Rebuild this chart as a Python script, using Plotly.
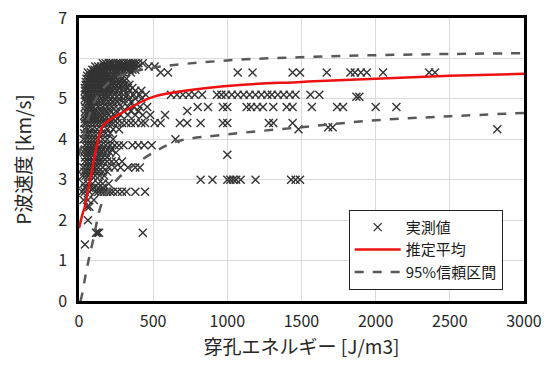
import plotly.graph_objects as go

# ---- measured points, grouped by P-wave velocity level (km/s) -> energies (J/m3)
row_levels = [5.88, 5.8, 5.72, 5.65, 5.57, 5.5, 5.42, 5.35, 5.27, 5.2, 5.1, 5.05, 5.0, 4.92,
              4.8, 4.7, 4.6, 4.5, 4.4, 4.3, 4.25, 4.15, 4.0, 3.85, 3.75, 3.67, 3.62, 3.55,
              3.45, 3.3, 3.2, 3.1, 3.0, 2.9, 2.8, 2.7, 2.5, 2.33, 2.0, 1.69, 1.4]
row_energy = [
    [160, 180, 200, 215, 230, 250, 265, 280, 300, 320, 335, 350, 365, 380, 400, 430],
    [110, 130, 150, 170, 190, 210, 230, 250, 270, 290, 310, 330, 350, 370, 400, 470, 510],
    [90, 105, 120, 140, 160, 180, 200, 220, 240, 260, 280, 300, 320, 340, 360, 380],
    [60, 80, 100, 120, 140, 160, 180, 250, 300, 350, 550, 600, 1070, 1170, 1440, 1490, 1670,
     1830, 1860, 1900, 1940, 2050, 2360, 2400],
    [55, 75, 95, 115, 135, 155, 175, 195, 215, 235, 255, 280],
    [50, 70, 90, 110, 130, 150, 170, 190, 210, 230, 260, 290, 320],
    [45, 65, 85, 105, 125, 145, 165, 185, 205, 225, 250, 275, 300],
    [45, 60, 80, 100, 120, 140, 160, 180, 200, 220, 250, 280, 310, 340],
    [40, 55, 75, 95, 115, 135, 155, 175, 195, 215, 240, 270, 300, 330, 360],
    [40, 60, 80, 100, 120, 140, 160, 180, 200, 230, 260, 300, 340, 380, 420],
    [40, 55, 70, 90, 110, 130, 150, 170, 190, 210, 240, 270, 300, 330, 370, 410, 450, 620, 660,
     700, 740, 780, 830, 930, 960, 990, 1030, 1070, 1110, 1150, 1190, 1230, 1270, 1300, 1340,
     1380, 1420, 1460, 1560, 1620],
    [1870, 1890],
    [40, 60, 80, 100, 120, 150, 180, 210, 240, 270, 300, 340, 380, 420],
    [45, 65, 85, 105, 125, 145, 170, 200, 230, 260, 300, 350],
    [40, 60, 80, 100, 130, 160, 190, 220, 250, 290, 330, 370, 410, 460, 800, 870, 970, 1000,
     1130, 1160, 1200, 1240, 1310, 1400, 1440, 1570, 1740, 1780, 2000, 2140],
    [45, 70, 95, 120, 150, 180, 210, 250, 300, 350, 400, 730],
    [40, 60, 85, 110, 140, 170, 200, 240, 280, 330, 380, 430, 480, 580],
    [40, 60, 80, 100, 125, 150, 175, 200, 230, 260],
    [35, 50, 70, 90, 110, 130, 150, 170, 190, 210, 230, 260, 290, 320, 350, 380, 420, 445, 510,
     550, 680, 730, 820, 970, 1000, 1280, 1310, 1440],
    [1680, 1710],
    [40, 60, 90, 120, 150, 190, 230, 270, 1480, 2820],
    [35, 55, 75, 100, 125, 150, 180, 210],
    [30, 50, 70, 90, 110, 130, 160, 190, 230, 650],
    [40, 60, 80, 100, 120, 150, 180, 210, 240, 270, 300, 360, 400, 440, 490],
    [40, 60, 85, 110, 135, 160, 190, 220],
    [35, 55, 75, 95, 120, 150, 180, 210, 250],
    [1000],
    [40, 60, 80, 105, 130, 160, 190],
    [40, 60, 80, 100, 120, 140, 160, 190, 220, 250, 290],
    [30, 50, 70, 90, 110, 130, 160, 200, 240, 280, 330, 380, 410],
    [35, 55, 80, 105, 130, 160, 190],
    [25, 45, 65, 85, 110, 140, 170],
    [820, 900, 1000, 1020, 1040, 1060, 1090, 1190, 1430, 1460, 1490],
    [30, 60, 90, 130, 160, 200],
    [40, 70, 100, 130, 160],
    [20, 40, 70, 110, 130, 150, 170, 190, 210, 230, 260, 290, 320, 380, 445],
    [30, 60, 100],
    [55, 70],
    [60],
    [115, 125, 135, 430],
    [40],
]

# ---- estimated mean curve
mean_x = [0, 20, 40, 75, 130, 165, 300, 500, 1000, 1500, 2000, 2500, 3000]
mean_y = [1.8, 2.1, 2.35, 3.0, 4.0, 4.35, 4.68, 5.05, 5.32, 5.42, 5.5, 5.57, 5.62]

# ---- 95% confidence bounds
upper_x = [0, 40, 100, 200, 300, 500, 1000, 1500, 2000, 2500, 3000]
upper_y = [3.6, 4.2, 4.9, 5.4, 5.6, 5.77, 5.95, 6.03, 6.08, 6.11, 6.13]
lower_x = [10, 20, 50, 95, 163, 277, 500, 663, 1000, 1500, 2000, 2500, 3000]
lower_y = [0.0, 0.15, 0.75, 1.5, 2.5, 3.08, 3.67, 3.95, 4.12, 4.3, 4.47, 4.57, 4.65]

x_ticks = [0, 500, 1000, 1500, 2000, 2500, 3000]
y_ticks = [0, 1, 2, 3, 4, 5, 6, 7]

meas_x, meas_y = [], []
for lvl, xs in zip(row_levels, row_energy):
    for xv in xs:
        meas_x.append(xv)
        meas_y.append(lvl)

FONT = "Noto Sans CJK JP, sans-serif"

fig = go.Figure()
fig.add_trace(go.Scatter(
    x=meas_x, y=meas_y, mode="markers", name="実測値", legendgroup="a",
    marker=dict(symbol="x-thin", size=8, line=dict(width=1.4, color="#333333"), color="#333333"),
))
fig.add_trace(go.Scatter(
    x=mean_x, y=mean_y, mode="lines", name="推定平均", legendgroup="b",
    line=dict(color="#ee1111", width=2.5, shape="spline"),
))
fig.add_trace(go.Scatter(
    x=upper_x, y=upper_y, mode="lines", name="95%信頼区間", legendgroup="c",
    line=dict(color="#595959", width=2.5, dash="dash", shape="spline"),
))
fig.add_trace(go.Scatter(
    x=lower_x, y=lower_y, mode="lines", name="95%信頼区間", legendgroup="c", showlegend=False,
    line=dict(color="#595959", width=2.5, dash="dash", shape="spline"),
))

fig.update_layout(
    width=546, height=365,
    margin=dict(l=79, r=22, t=18, b=64),
    paper_bgcolor="white", plot_bgcolor="white",
    font=dict(family=FONT, size=16, color="#262626"),
    legend=dict(
        x=0.606, y=0.322, xanchor="left", yanchor="top",
        bgcolor="white", bordercolor="#222222", borderwidth=1,
        font=dict(size=15, color="#1a1a1a"), itemwidth=46,
        tracegroupgap=0,
    ),
    xaxis=dict(
        range=[0, 3000], tickvals=x_ticks, showgrid=True, gridcolor="#d9d9d9", gridwidth=1,
        showline=True, mirror=True, linecolor="black", linewidth=2.5, zeroline=False,
        automargin=False, ticks="", ticklabelstandoff=4, ticklabeloverflow="allow",
        title=dict(text="穿孔エネルギー [J/m3]", font=dict(size=19), standoff=8),
    ),
    yaxis=dict(
        range=[0, 7], tickvals=y_ticks, showgrid=True, gridcolor="#d9d9d9", gridwidth=1,
        showline=True, mirror=True, linecolor="black", linewidth=2.5, zeroline=False,
        automargin=False, ticks="", ticklabelstandoff=6, ticklabeloverflow="allow",
        title=dict(text="P波速度 [km/s]", font=dict(size=19), standoff=22),
    ),
)

# remove the page's default body margin so the figure sits at the window origin
fig.write_html("out.html", config={"displayModeBar": False},
               post_script="document.body.style.margin='0';")
